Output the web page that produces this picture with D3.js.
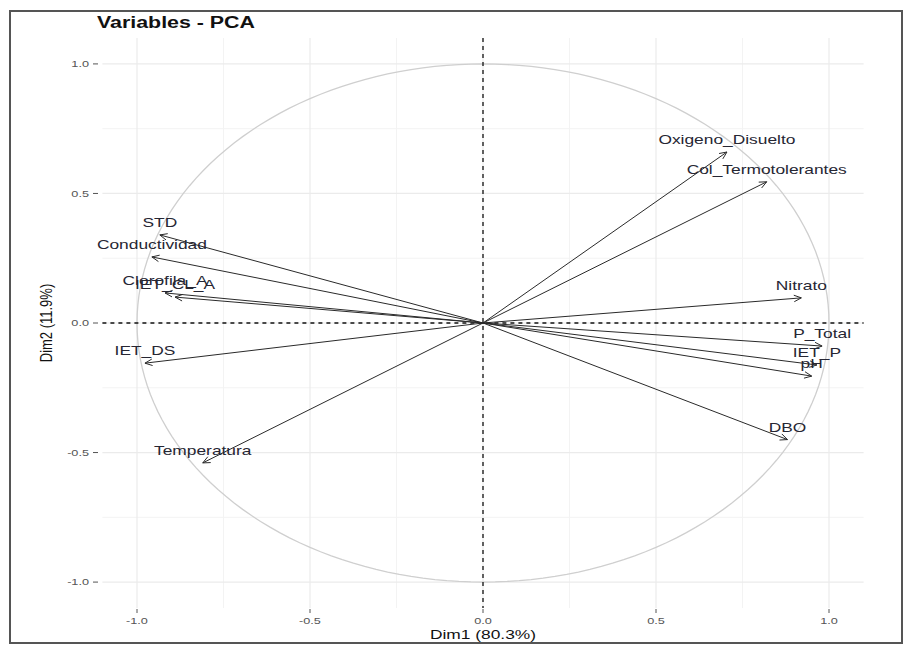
<!DOCTYPE html>
<html><head><meta charset="utf-8">
<script src="https://cdn.jsdelivr.net/npm/d3@7"></script>
<style>body{margin:0;background:#fff}svg{display:block}text{font-family:"Liberation Sans",Arial,sans-serif}</style>
</head><body>
<svg id="c" width="905" height="645"></svg>
<script>
const variables = ["Oxigeno_Disuelto","Col_Termotolerantes","Nitrato","P_Total","IET_P","pH","DBO","Temperatura","IET_DS","STD","Conductividad","Clorofila_A","IET_CL_A"];
const dim1 = [0.705, 0.82, 0.92, 0.98, 0.965, 0.95, 0.88, -0.81, -0.977, -0.934, -0.957, -0.919, -0.89];
const dim2 = [0.66, 0.545, 0.097, -0.089, -0.162, -0.205, -0.45, -0.54, -0.155, 0.34, 0.255, 0.116, 0.10];
const majorTicks = [-1.0, -0.5, 0.0, 0.5, 1.0];
const minorTicks = [-0.75, -0.25, 0.25, 0.75];
const tickLabels = ["-1.0", "-0.5", "0.0", "0.5", "1.0"];
const title = "Variables - PCA";
const xTitle = "Dim1 (80.3%)";
const yTitle = "Dim2 (11.9%)";

const SX = 1.336; // horizontal stretch of the picture
const svg = d3.select("#c");
const x = d3.scaleLinear().domain([-1.1, 1.1]).range([102.4, 863.6]);
const y = d3.scaleLinear().domain([-1.1, 1.1]).range([608, 38]);

// frame
svg.append("rect").attr("x", 10).attr("y", 11).attr("width", 892).attr("height", 632)
  .attr("fill", "none").attr("stroke", "#555").attr("stroke-width", 2);

const g = svg.append("g");
// grid
minorTicks.forEach(t => {
  g.append("line").attr("x1", x(t)).attr("x2", x(t)).attr("y1", y.range()[1]).attr("y2", y.range()[0]).attr("stroke", "#f3f3f3").attr("stroke-width", 1);
  g.append("line").attr("y1", y(t)).attr("y2", y(t)).attr("x1", x.range()[0]).attr("x2", x.range()[1]).attr("stroke", "#f3f3f3").attr("stroke-width", 1);
});
majorTicks.forEach(t => {
  g.append("line").attr("x1", x(t)).attr("x2", x(t)).attr("y1", y.range()[1]).attr("y2", y.range()[0]).attr("stroke", "#ebebeb").attr("stroke-width", 1.2);
  g.append("line").attr("y1", y(t)).attr("y2", y(t)).attr("x1", x.range()[0]).attr("x2", x.range()[1]).attr("stroke", "#ebebeb").attr("stroke-width", 1.2);
});

// circle
const circ = d3.range(0, 361, 2).map(a => [Math.cos(a * Math.PI / 180), Math.sin(a * Math.PI / 180)]);
g.append("path").attr("d", d3.line().x(d => x(d[0])).y(d => y(d[1]))(circ))
  .attr("fill", "none").attr("stroke", "#cfcfcf").attr("stroke-width", 1.3);

// dashed zero lines
g.append("line").attr("x1", x.range()[0]).attr("x2", x.range()[1]).attr("y1", y(0)).attr("y2", y(0))
  .attr("stroke", "#111").attr("stroke-width", 1.3).attr("stroke-dasharray", "4,4");
g.append("line").attr("y1", y.range()[1]).attr("y2", y.range()[0]).attr("x1", x(0)).attr("x2", x(0))
  .attr("stroke", "#111").attr("stroke-width", 1.3).attr("stroke-dasharray", "4,4");

// arrows
const data = variables.map((v, i) => ({name: v, px: dim1[i], py: dim2[i]}));
const ar = g.append("g");
data.forEach(d => {
  const x0 = x(0), y0 = y(0), x1 = x(d.px), y1 = y(d.py);
  ar.append("line").attr("x1", x0).attr("y1", y0).attr("x2", x1).attr("y2", y1)
    .attr("stroke", "#2a2a2a").attr("stroke-width", 1);
  const ang = Math.atan2(y1 - y0, x1 - x0), L = 8, w = 0.42;
  const h1 = [x1 - L * Math.cos(ang - w), y1 - L * Math.sin(ang - w)];
  const h2 = [x1 - L * Math.cos(ang + w), y1 - L * Math.sin(ang + w)];
  ar.append("path").attr("d", `M${h1[0]},${h1[1]}L${x1},${y1}L${h2[0]},${h2[1]}`)
    .attr("fill", "none").attr("stroke", "#2a2a2a").attr("stroke-width", 1);
});
// labels
data.forEach(d => {
  g.append("text").attr("transform", `translate(${x(d.px)},${y(d.py) - 8}) scale(${SX},1)`)
    .attr("text-anchor", "middle").attr("font-size", 13).attr("fill", "#262633").text(d.name);
});

// axes ticks
majorTicks.forEach((t, i) => {
  svg.append("line").attr("x1", x(t)).attr("x2", x(t)).attr("y1", 609).attr("y2", 613).attr("stroke", "#555").attr("stroke-width", 1);
  svg.append("text").attr("transform", `translate(${x(t)},${624}) scale(${SX},1)`)
    .attr("text-anchor", "middle").attr("font-size", 9.5).attr("fill", "#555").text(tickLabels[i]);
  svg.append("line").attr("x1", 93).attr("x2", 98).attr("y1", y(t)).attr("y2", y(t)).attr("stroke", "#555").attr("stroke-width", 1);
  svg.append("text").attr("transform", `translate(${89},${y(t) + 3.4}) scale(${SX},1)`)
    .attr("text-anchor", "end").attr("font-size", 9.5).attr("fill", "#555").text(tickLabels[i]);
});

// axis titles
svg.append("text").attr("transform", `translate(${x(0)},${639}) scale(${SX},1)`)
  .attr("text-anchor", "middle").attr("font-size", 13).attr("fill", "#111").text(xTitle);
svg.append("text").attr("transform", `translate(${52},${y(0)}) scale(${SX},1) rotate(-90)`)
  .attr("text-anchor", "middle").attr("font-size", 13).attr("fill", "#111").text(yTitle);

// title
svg.append("text").attr("transform", `translate(${97},${28}) scale(${SX},1)`)
  .attr("font-size", 16).attr("font-weight", "bold").attr("fill", "#111").text(title);
</script>
</body></html>
